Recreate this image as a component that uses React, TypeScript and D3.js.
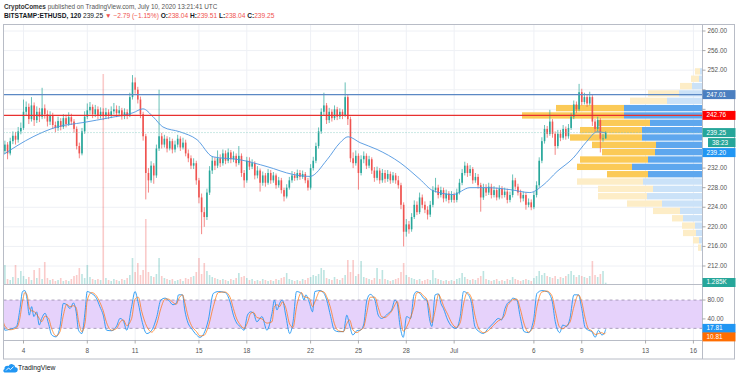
import React from "react";
import * as d3 from "d3";

const W = 736;
const H = 379;

// ---------- axes ----------
const priceTicks = [212, 216, 220, 224, 228, 232, 236, 240, 244, 248, 252, 256, 260];
const dateTickDays = [4, 8, 11, 15, 18, 22, 25, 28, 31, 36, 39, 43, 46]; // day counted from Jun 0
const dateTickLabels = ["4", "8", "11", "15", "18", "22", "25", "28", "Jul", "6", "9", "13", "16"];
const stochTickValues = [80, 40];

// ---------- candles: 4h bars starting Jun 2 16:00 UTC ----------
const candleStartDay = 2 + 16 / 24;
const candleStepDays = 4 / 24;
const firstOpen = 234.8;
const closes = [
  235.5, 236.8, 235.0, 237.5, 238.6, 237.8, 239.5, 240.2, 243.5, 244.5, 242.0, 244.8,
  241.8, 243.5, 242.5, 244.2, 243.0, 241.5, 242.8, 240.8, 240.2, 241.6, 240.4, 242.2,
  241.0, 242.4, 241.5, 240.0, 236.5, 235.0, 239.5, 242.5, 243.8, 244.5, 243.0, 244.0,
  242.8, 243.5, 242.6, 243.4, 242.8, 243.6, 244.0, 243.2, 243.8, 242.6, 243.4, 242.8,
  246.5, 249.5, 248.0, 246.0, 243.0, 238.5, 231.0, 229.5, 232.5, 230.5, 236.0, 238.5,
  236.8, 238.0, 236.0, 237.5, 235.8, 236.8, 238.0, 236.2, 237.2, 235.0, 234.0, 232.5,
  233.0, 229.5, 226.0, 223.0, 222.0, 227.0, 231.5, 233.5, 232.5, 234.0, 233.0, 235.0,
  233.5, 235.2, 233.8, 234.5, 233.0, 234.5, 231.0, 229.5, 233.5, 232.3, 233.0, 230.5,
  231.5, 229.0, 230.5, 229.0, 231.0, 229.5, 230.5, 228.5, 229.5, 227.5, 226.2, 228.0,
  229.5, 230.5, 230.0, 231.0, 230.2, 230.8, 229.5, 228.0, 232.0, 233.5, 236.5, 239.5,
  243.5, 244.8, 241.8, 243.5, 242.2, 244.0, 242.5, 243.5, 242.8, 246.5, 242.0, 234.0,
  233.0, 234.5, 231.0, 233.8, 234.5, 232.5, 233.8, 231.5, 230.0, 231.5, 229.5, 231.0,
  229.8, 230.8, 229.5, 230.5, 229.5, 228.5, 224.5, 219.0, 220.5, 219.5, 222.0, 224.5,
  223.0, 226.0, 224.5, 223.5, 222.5, 224.5, 227.5, 228.0, 226.5, 227.5, 225.8, 226.8,
  225.5, 226.5, 225.5, 227.0, 229.0, 231.0, 232.5, 231.0, 231.8, 229.5, 230.2, 228.5,
  226.0, 228.0, 227.0, 228.2, 226.5, 227.5, 226.0, 227.8, 226.5, 227.2, 225.5, 226.5,
  229.5, 228.2, 227.0, 225.8, 226.5, 224.5, 225.0, 224.0, 226.5, 228.5, 233.5, 237.5,
  240.0, 239.0, 241.5, 239.0, 236.5, 239.0, 238.2, 240.0, 238.5, 240.2, 242.5, 245.0,
  244.0, 247.5, 245.5, 246.5, 245.2, 246.5, 241.5, 240.0, 241.8, 238.0, 238.04, 239.25,
];
const highs = [
  236.2, 237.6, 237.3, 238.2, 239.5, 239.4, 240.4, 241.3, 246.0, 245.6, 245.2, 246.5,
  245.4, 244.6, 244.3, 248.4, 245.0, 243.8, 243.6, 243.3, 241.5, 242.5, 242.2, 243.0,
  242.9, 243.4, 243.1, 242.0, 240.5, 237.2, 240.2, 243.6, 245.2, 245.5, 245.0, 244.9,
  244.6, 244.4, 244.2, 244.3, 244.0, 244.6, 245.3, 244.8, 244.7, 244.3, 244.2, 244.0,
  247.4, 251.0, 250.5, 248.6, 246.6, 243.5, 239.0, 232.0, 233.4, 233.0, 236.8, 248.0,
  239.2, 238.8, 238.5, 238.3, 238.0, 237.6, 238.8, 238.5, 238.2, 237.8, 235.8, 234.6,
  234.0, 233.5, 230.0, 226.8, 224.0, 227.8, 232.4, 234.4, 234.2, 235.6, 234.8, 235.8,
  235.6, 236.0, 235.7, 235.4, 235.0, 236.5, 235.0, 231.6, 234.3, 234.2, 233.8, 233.4,
  232.4, 231.9, 231.3, 231.0, 231.8, 231.6, 231.2, 230.9, 230.2, 230.0, 228.0, 228.7,
  230.2, 231.4, 231.2, 231.7, 231.6, 231.5, 231.2, 230.0, 232.8, 234.3, 237.2, 240.3,
  244.2, 247.4, 245.3, 244.3, 244.0, 244.8, 244.5, 244.2, 244.0, 249.5, 247.0, 242.5,
  235.2, 235.6, 235.0, 234.6, 235.4, 235.0, 234.5, 234.2, 232.2, 232.3, 232.0, 231.8,
  231.6, 231.6, 231.3, 231.2, 231.0, 230.4, 229.0, 225.0, 221.6, 221.2, 222.8, 225.4,
  225.2, 227.0, 226.6, 225.2, 224.2, 225.3, 228.3, 230.0, 228.6, 228.2, 228.0, 227.6,
  227.3, 227.3, 227.0, 227.8, 229.8, 231.8, 233.3, 233.0, 232.6, 232.2, 231.0, 230.8,
  229.0, 228.8, 228.7, 229.0, 228.8, 228.3, 228.0, 228.5, 228.3, 228.0, 227.8, 227.2,
  230.7, 230.0, 228.8, 227.6, 227.2, 227.0, 225.8, 225.6, 227.2, 229.3, 234.2, 238.3,
  240.8, 240.6, 243.9, 242.0, 239.5, 239.8, 239.8, 240.8, 240.5, 241.0, 243.2, 245.8,
  245.6, 249.2, 248.2, 247.4, 247.0, 247.6, 246.9, 242.0, 242.5, 242.2, 239.0, 239.51,
];
const lows = [
  233.9, 234.9, 233.8, 234.6, 236.9, 236.8, 237.2, 238.9, 239.8, 242.8, 241.0, 241.5,
  240.6, 241.2, 241.4, 242.0, 242.1, 240.5, 240.8, 240.0, 239.3, 239.6, 239.7, 240.0,
  240.3, 240.6, 240.8, 239.2, 235.8, 234.0, 234.6, 239.0, 242.0, 243.0, 242.2, 242.4,
  242.0, 242.1, 241.8, 242.0, 242.0, 242.2, 243.0, 242.4, 242.6, 241.9, 242.0, 242.0,
  242.4, 246.0, 247.2, 245.2, 242.2, 237.6, 225.6, 227.0, 229.0, 228.8, 230.0, 235.5,
  236.0, 236.2, 235.2, 235.6, 235.0, 235.2, 236.2, 235.5, 235.8, 234.4, 233.2, 231.8,
  231.8, 228.6, 224.8, 218.5, 220.0, 221.4, 226.5, 230.8, 231.6, 232.0, 232.2, 232.5,
  232.8, 233.0, 233.0, 233.2, 232.3, 232.6, 230.2, 228.0, 229.0, 231.6, 231.8, 229.7,
  229.9, 227.2, 228.4, 228.2, 228.6, 228.8, 229.0, 227.8, 228.0, 226.8, 225.2, 225.8,
  227.6, 229.0, 229.4, 229.5, 229.6, 229.8, 228.9, 227.4, 227.6, 231.5, 233.0, 236.0,
  239.0, 242.8, 241.0, 241.2, 241.5, 241.8, 241.8, 242.0, 242.0, 242.4, 240.8, 233.2,
  232.0, 232.5, 227.6, 230.5, 233.0, 231.8, 232.0, 230.8, 229.2, 229.5, 228.8, 229.0,
  229.0, 229.2, 228.8, 229.0, 228.8, 227.8, 223.6, 216.0, 218.0, 218.6, 219.0, 221.6,
  222.4, 222.6, 223.8, 222.8, 221.5, 222.0, 224.0, 227.0, 225.8, 226.0, 225.0, 225.2,
  224.8, 225.0, 224.9, 225.0, 226.6, 228.5, 230.5, 230.2, 230.4, 228.8, 229.0, 227.8,
  223.1, 225.5, 226.3, 226.5, 225.8, 226.0, 225.4, 225.6, 225.8, 226.0, 224.8, 225.0,
  226.0, 227.6, 226.4, 225.0, 225.2, 223.5, 224.0, 223.4, 223.6, 226.0, 228.0, 233.0,
  237.0, 238.2, 238.6, 238.2, 234.7, 236.0, 237.5, 237.8, 237.8, 238.0, 239.8, 242.0,
  243.2, 243.6, 244.8, 245.0, 244.5, 244.8, 240.6, 239.4, 239.5, 235.2, 237.4, 238.04,
];
// volume in thousands of ETH
const volumes = [
  6, 19, 5, 4, 7, 19, 6, 13, 8, 5, 7, 4,
  14, 6, 16, 5, 22, 6, 4, 5, 3, 4, 6, 3,
  4, 3, 5, 8, 9, 16, 10, 6, 19, 7, 5, 4,
  5, 4, 210, 6, 4, 3, 5, 4, 3, 5, 4, 6,
  9, 26, 12, 21, 9, 14, 65, 12, 8, 7, 10, 26,
  8, 6, 5, 4, 5, 3, 4, 5, 3, 6, 5, 7,
  8, 12, 26, 10, 21, 13, 9, 7, 6, 5, 4, 5,
  4, 3, 5, 4, 6, 11, 7, 8, 6, 4, 5, 3,
  4, 3, 5, 4, 3, 4, 3, 5, 4, 6, 7, 11,
  5, 4, 3, 4, 3, 5, 4, 6, 7, 9, 8, 10,
  16, 14, 6, 5, 4, 7, 5, 4, 6, 9, 24, 12,
  24, 8, 10, 23, 7, 6, 5, 4, 6, 16, 5, 14,
  5, 4, 3, 4, 5, 6, 12, 21, 9, 7, 6, 5,
  4, 5, 3, 4, 5, 4, 14, 6, 5, 4, 3, 4,
  3, 4, 3, 5, 6, 11, 7, 5, 4, 5, 4, 6,
  8, 13, 5, 4, 3, 4, 5, 3, 4, 3, 5, 4,
  7, 5, 4, 3, 4, 5, 4, 3, 6, 8, 13, 9,
  11, 8, 7, 6, 8, 5, 7, 6, 8, 10, 13, 9,
  7, 9, 8, 7, 6, 8, 23, 9, 7, 10, 13, 1.285,
];

// ---------- moving average ----------
const maDays = [2.71, 4.6, 6.1, 7.73, 9.42, 10.87, 11.49, 12.12, 12.74, 13.81, 14.88, 15.88, 17.57, 19.27, 20.9, 21.96, 23.03, 23.85, 24.35, 25.1, 26.17, 27.61, 28.86, 29.67, 30.93, 31.99, 33.06, 34.5, 35.75, 36.57, 37.45, 38.45, 39.33, 39.96, 40.5];
const maValues = [234.7, 238.4, 240.4, 241.3, 242.3, 243.3, 244.1, 242.5, 240.4, 239.4, 237.8, 234.3, 233.7, 232.3, 230.7, 230.3, 233.7, 237.2, 238.4, 237.2, 235.8, 233.1, 229.7, 227.4, 226.6, 228.0, 228.0, 227.6, 227.0, 228.5, 231.3, 234.0, 237.5, 239.4, 239.2];

// ---------- horizontal levels ----------
const levelBlue = 247.01;
const levelRed = 242.76;
const lastPrice = 239.25;
const countdown = "38:23";

// ---------- stochastic ----------
const stochDays = [
  2.72, 2.83, 3.14, 3.56, 3.77, 3.94, 4.09, 4.23, 4.36, 4.51,
  4.65, 4.82, 4.99, 5.14, 5.35, 5.56, 5.77, 6.04, 6.29, 6.5,
  6.71, 6.92, 7.13, 7.3, 7.45, 7.66, 7.87, 7.99, 8.26, 8.57,
  8.79, 9.0, 9.21, 9.52, 9.84, 10.05, 10.26, 10.47, 10.78, 10.99,
  11.2, 11.41, 11.73, 12.04, 12.36, 12.61, 12.88, 13.09, 13.37, 13.58,
  13.72, 13.97, 14.11, 14.32, 14.53, 14.85, 15.06, 15.31, 15.59, 15.9,
  16.22, 16.64, 16.95, 17.16, 17.37, 17.58, 17.83, 18.04, 18.25, 18.42,
  18.63, 18.95, 19.26, 19.58, 19.73, 19.89, 20.06, 20.23, 20.44, 20.69,
  20.9, 21.12, 21.43, 21.58, 21.7, 21.91, 22.12, 22.27, 22.59, 22.84,
  23.01, 23.26, 23.49, 23.74, 24.06, 24.27, 24.44, 24.65, 24.9, 25.11,
  25.32, 25.53, 25.74, 26.03, 26.24, 26.45, 26.66, 26.87, 27.08, 27.29,
  27.43, 27.6, 27.81, 28.02, 28.27, 28.48, 28.65, 28.86, 29.07, 29.28,
  29.45, 29.6, 29.81, 30.02, 30.17, 30.33, 30.59, 30.86, 31.13, 31.38,
  31.59, 31.82, 32.09, 32.3, 32.57, 32.83, 33.14, 33.46, 33.77, 33.98,
  34.19, 34.34, 34.51, 34.68, 34.93, 35.14, 35.39, 35.66, 35.98, 36.19,
  36.5, 36.82, 37.13, 37.34, 37.62, 37.81, 38.05, 38.26, 38.51, 38.79,
  39.0, 39.21, 39.42, 39.63, 39.84, 40.05, 40.26, 40.4, 40.5,
];
const stochK = [
  34, 16, 18, 24, 59, 98, 100, 80, 48, 66,
  45, 55, 27, 41, 52, 31, 6, 2, 24, 73,
  70, 62, 74, 55, 16, 9, 59, 98, 94, 84,
  66, 48, 16, 15, 25, 41, 36, 16, 66, 98,
  73, 38, 9, 16, 45, 80, 84, 80, 70, 73,
  91, 91, 59, 31, 20, 6, 1, 9, 38, 94,
  98, 96, 76, 48, 31, 24, 16, 48, 55, 52,
  34, 45, 16, 52, 80, 59, 73, 80, 48, 9,
  34, 98, 94, 80, 91, 76, 55, 98, 100, 94,
  80, 45, 16, 13, 13, 48, 27, 6, 15, 16,
  27, 80, 92, 80, 48, 41, 45, 52, 59, 80,
  73, 27, 1, 45, 41, 91, 98, 94, 84, 80,
  41, 24, 91, 93, 73, 62, 38, 24, 20, 45,
  98, 94, 73, 24, 13, 9, 20, 31, 41, 38,
  62, 73, 77, 84, 80, 45, 13, 11, 38, 94,
  100, 98, 80, 34, 11, 27, 24, 41, 91, 91,
  62, 22, 16, 13, 1, 16, 6, 9, 17.81,
];
const stochD = [
  36, 25, 17, 21, 41, 78, 96, 90, 64, 57,
  56, 50, 41, 34, 46, 42, 19, 4, 13, 48,
  71, 66, 68, 64, 36, 13, 34, 78, 96, 89,
  75, 57, 32, 16, 20, 33, 38, 26, 41, 82,
  86, 56, 24, 12, 30, 62, 82, 82, 75, 71,
  82, 91, 75, 45, 26, 13, 4, 5, 24, 66,
  96, 97, 86, 62, 40, 28, 20, 32, 52, 54,
  43, 40, 31, 34, 66, 70, 66, 76, 64, 29,
  22, 66, 96, 87, 86, 84, 66, 76, 99, 97,
  87, 62, 30, 15, 13, 30, 38, 17, 11, 16,
  22, 54, 86, 86, 64, 45, 43, 48, 56, 70,
  77, 50, 14, 23, 43, 66, 95, 96, 89, 82,
  61, 32, 58, 92, 83, 68, 50, 31, 22, 32,
  72, 96, 84, 48, 18, 11, 15, 26, 36, 40,
  50, 68, 75, 81, 82, 62, 29, 12, 25, 66,
  97, 99, 89, 57, 22, 19, 26, 33, 66, 91,
  76, 42, 19, 15, 7, 9, 11, 8, 10.81,
];

// ---------- visible range volume profile (bins of 1.5) ----------
const profileBinLow = [251, 249.5, 248, 246.5, 245, 243.5, 242, 240.5, 239, 237.5, 236, 234.5, 233, 231.5, 230, 228.5, 227, 225.5, 224, 222.5, 221, 219.5, 218, 216.5, 215];
const profileDown = [0.5, 0.8, 1.2, 3.1, 3.7, 6.8, 10.2, 5.3, 6.2, 7.2, 6.4, 5.3, 6.8, 5.5, 4.1, 6.6, 5.5, 4.9, 3.5, 2.7, 1.1, 1.3, 1.3, 0.6, 0.3];
const profileUp = [0.2, 0.3, 1.0, 2.3, 3.5, 7.8, 7.8, 5.2, 6.0, 6.0, 4.6, 4.7, 5.4, 7.0, 5.4, 5.9, 4.9, 5.5, 4.0, 2.2, 1.9, 0.7, 0.6, 0.3, 0.1];
const profileBin = 1.5;
const valueAreaLow = 230;
const valueAreaHigh = 245;

const FONT = "'Liberation Sans', Arial, sans-serif";
const UP = "#26a69a";
const DOWN = "#ef5350";

export default function App() {
  const L = 3.5, R = 702, MT = 24.5, MB = 284.5, ST = 285, SB = 340.5, AB = 359;
  const x = d3.scaleLinear().domain([4, 46]).range([23.5, 693.4]);
  const y = d3.scaleLinear().domain([212, 260]).range([266, 31]);
  const yS = d3.scaleLinear().domain([0, 100]).range([337.8, 290.6]);
  const yV = d3.scaleLinear().domain([0, 260]).range([284, 24]);
  const wP = d3.scaleLinear().domain([0, 18]).range([0, 180]);

  const candles = closes.map((c, i) => {
    const o = i === 0 ? firstOpen : closes[i - 1];
    return { t: candleStartDay + i * candleStepDays, o, h: highs[i], l: lows[i], c, v: volumes[i] };
  });

  const maLine = d3.line<number>()
    .x((_, i) => x(maDays[i]))
    .y((v) => y(v))
    .curve(d3.curveMonotoneX)(maValues) || "";
  const kLine = d3.line<number>()
    .x((_, i) => x(stochDays[i]))
    .y((v) => yS(v))
    .curve(d3.curveMonotoneX)(stochK) || "";
  const dLine = d3.line<number>()
    .x((_, i) => x(stochDays[i]))
    .y((v) => yS(v))
    .curve(d3.curveMonotoneX)(stochD) || "";

  // axis tags on the price scale
  const priceTags = [
    { yc: y(levelBlue), text: levelBlue.toFixed(2), bg: "#4b7fc0", x0: R + 0.5, w: 33 },
    { yc: y(levelRed), text: levelRed.toFixed(2), bg: "#ff0000", x0: R + 0.5, w: 33 },
    { yc: y(lastPrice), text: lastPrice.toFixed(2), bg: "#26a69a", x0: R + 0.5, w: 33 },
    { yc: y(lastPrice) + 10, text: countdown, bg: "#26a69a", x0: R + 6, w: 27.5 },
    { yc: y(lastPrice) + 20, text: maValues[maValues.length - 1].toFixed(2), bg: "#2196f3", x0: R + 0.5, w: 33 },
  ];
  const visiblePriceTicks = priceTicks.filter((p) => priceTags.every((t) => Math.abs(t.yc - y(p)) > 6.5));

  const tag = (yc: number, text: string, bg: string, key: string, x0 = R + 0.5, w = 33) => (
    <g key={key}>
      <rect x={x0} y={yc - 4.5} width={w} height={9} fill={bg} />
      <text x={x0 + 4} y={yc + 0.3} fontSize={6.4} fill="#fff" dominantBaseline="middle" fontFamily={FONT}>{text}</text>
    </g>
  );

  return (
    <div style={{ position: "absolute", left: 0, top: 0 }}>
      <svg width={W} height={H} style={{ display: "block", background: "#fff" }}>
        <defs>
          <clipPath id="mainClip"><rect x={L} y={MT} width={R - L} height={MB - MT} /></clipPath>
          <clipPath id="stochClip"><rect x={L} y={ST} width={R - L} height={SB - ST} /></clipPath>
        </defs>

        {/* header */}
        <text x={4} y={8.5} fontSize={6.4} fill="#555" fontFamily={FONT}>
          <tspan fontWeight="bold" fill="#333">CryptoComes</tspan>
          {" published on TradingView.com, July 10, 2020 13:21:41 UTC"}
        </text>
        <text x={4} y={18} fontSize={6.6} fill="#131722" fontFamily={FONT}>
          <tspan fontWeight="bold">BITSTAMP:ETHUSD, 120</tspan>
          <tspan>{" 239.25 "}</tspan>
          <tspan fill={DOWN}>{"▼ −2.79 (−1.15%) "}</tspan>
          <tspan fontWeight="bold">O:</tspan><tspan fill={DOWN}>{"238.04 "}</tspan>
          <tspan fontWeight="bold">H:</tspan><tspan fill={DOWN}>{"239.51 "}</tspan>
          <tspan fontWeight="bold">L:</tspan><tspan fill={DOWN}>{"238.04 "}</tspan>
          <tspan fontWeight="bold">C:</tspan><tspan fill={DOWN}>{"239.25"}</tspan>
        </text>

        {/* grid */}
        {dateTickDays.map((d, i) => (
          <line key={"vg" + i} x1={x(d)} x2={x(d)} y1={MT} y2={SB} stroke="#eef0f5" strokeWidth={1} />
        ))}
        {priceTicks.map((p) => (
          <line key={"hg" + p} x1={L} x2={R} y1={y(p)} y2={y(p)} stroke="#eef0f5" strokeWidth={1} />
        ))}

        {/* main pane */}
        <g clipPath="url(#mainClip)">
          {candles.map((k, i) => (
            <rect key={"v" + i} x={x(k.t) - 0.8} y={yV(k.v)} width={1.6} height={Math.max(0.5, yV(0) - yV(k.v))}
              fill={k.c >= k.o ? "rgba(38,166,154,0.3)" : "rgba(239,83,80,0.3)"} />
          ))}
          {profileBinLow.map((lo, i) => {
            const inVA = lo >= valueAreaLow && lo < valueAreaHigh;
            const top = y(lo + profileBin) + 0.5;
            const h = y(lo) - y(lo + profileBin) - 1;
            const wu = wP(profileUp[i]);
            const wd = wP(profileDown[i]);
            return (
              <g key={"pf" + i}>
                <rect x={R - wu} y={top} width={wu} height={h} fill={inVA ? "#5ea7ee" : "#cbe2f8"} />
                <rect x={R - wu - wd} y={top} width={wd} height={h} fill={inVA ? "#fbca57" : "#fdedc7"} />
              </g>
            );
          })}
          {candles.map((k, i) => {
            const col = k.c >= k.o ? UP : DOWN;
            const cx = x(k.t);
            const yt = y(Math.max(k.o, k.c));
            const yb = y(Math.min(k.o, k.c));
            return (
              <g key={"c" + i}>
                <line x1={cx} x2={cx} y1={y(k.h)} y2={y(k.l)} stroke={col} strokeWidth={0.7} />
                <rect x={cx - 0.8} y={yt} width={1.6} height={Math.max(0.6, yb - yt)} fill={col} />
              </g>
            );
          })}
          <path d={maLine} fill="none" stroke="#4e95e0" strokeWidth={0.9} />
          <line x1={L} x2={R} y1={y(levelBlue)} y2={y(levelBlue)} stroke="#5b88c4" strokeWidth={1.3} />
          <line x1={L} x2={R} y1={y(levelRed)} y2={y(levelRed)} stroke="#e8302f" strokeWidth={1.4} />
          <line x1={L} x2={R} y1={y(lastPrice)} y2={y(lastPrice)} stroke="#7cc8bd" strokeWidth={0.8} strokeDasharray="1,2" />
        </g>

        {/* stochastic pane */}
        <rect x={L} y={yS(80)} width={R - L} height={yS(20) - yS(80)} fill="#e6d2fb" />
        <line x1={L} x2={R} y1={yS(80)} y2={yS(80)} stroke="#8c7fa0" strokeWidth={0.7} strokeDasharray="3,3" />
        <line x1={L} x2={R} y1={yS(20)} y2={yS(20)} stroke="#8c7fa0" strokeWidth={0.7} strokeDasharray="3,3" />
        <g clipPath="url(#stochClip)">
          <path d={kLine} fill="none" stroke="#2196f3" strokeWidth={0.9} />
          <path d={dLine} fill="none" stroke="#ff6d00" strokeWidth={0.8} opacity={0.85} />
        </g>

        {/* frames */}
        <rect x={L} y={MT} width={734.5 - L} height={AB - MT} fill="none" stroke="#b8bcc6" strokeWidth={1} />
        <line x1={R + 0.5} x2={R + 0.5} y1={MT} y2={AB} stroke="#b8bcc6" strokeWidth={1} />
        <line x1={L} x2={734.5} y1={MB} y2={MB} stroke="#b8bcc6" strokeWidth={1.2} />
        <line x1={L} x2={734.5} y1={SB} y2={SB} stroke="#b8bcc6" strokeWidth={1} />

        {/* price axis */}
        {priceTicks.map((p) => (
          <line key={"ptm" + p} x1={R + 0.5} x2={R + 3.5} y1={y(p)} y2={y(p)} stroke="#888" strokeWidth={0.7} />
        ))}
        {visiblePriceTicks.map((p) => (
          <text key={"pt" + p} x={R + 5.5} y={y(p) + 0.3} fontSize={6.4} fill="#555" dominantBaseline="middle" fontFamily={FONT}>
            {p.toFixed(2)}
          </text>
        ))}
        {stochTickValues.map((v) => (
          <g key={"st" + v}>
            <line x1={R + 0.5} x2={R + 3.5} y1={yS(v)} y2={yS(v)} stroke="#888" strokeWidth={0.7} />
            <text x={R + 5.5} y={yS(v) + 0.3} fontSize={6.4} fill="#555" dominantBaseline="middle" fontFamily={FONT}>
              {v.toFixed(2)}
            </text>
          </g>
        ))}
        {priceTags.map((t, i) => tag(t.yc, t.text, t.bg, "ptag" + i, t.x0, t.w))}
        {tag(yV(0) - 1.5, volumes[volumes.length - 1].toFixed(3) + "K", "#26a69a", "tv")}
        {tag(yS(stochK[stochK.length - 1]) - 1, stochK[stochK.length - 1].toFixed(2), "#2196f3", "tk")}
        {tag(yS(stochK[stochK.length - 1]) + 7.5, stochD[stochD.length - 1].toFixed(2), "#ff6d00", "td")}

        {/* time axis */}
        {dateTickDays.map((d, i) => (
          <g key={"dt" + i}>
            <line x1={x(d)} x2={x(d)} y1={SB} y2={SB + 3} stroke="#888" strokeWidth={0.7} />
            <text x={x(d)} y={351.5} fontSize={6.4} fill="#555" textAnchor="middle" dominantBaseline="middle" fontFamily={FONT}>
              {dateTickLabels[i]}
            </text>
          </g>
        ))}

        {/* footer logo */}
        <g>
          <path d="M4.5 372.5 h10.5 a2.6 2.6 0 0 0 0.3 -5.2 a3.6 3.6 0 0 0 -6.8 -1.2 a2.7 2.7 0 0 0 -4 3 a1.8 1.8 0 0 0 0 3.4 z" fill="#2196f3" />
          <polyline points="6,370.5 8.5,368 10.5,369.6 13.5,366.6" fill="none" stroke="#fff" strokeWidth={0.9} />
          <text x={18} y={370} fontSize={6.8} fill="#131722" fontFamily={FONT}>TradingView</text>
        </g>
      </svg>
    </div>
  );
}
